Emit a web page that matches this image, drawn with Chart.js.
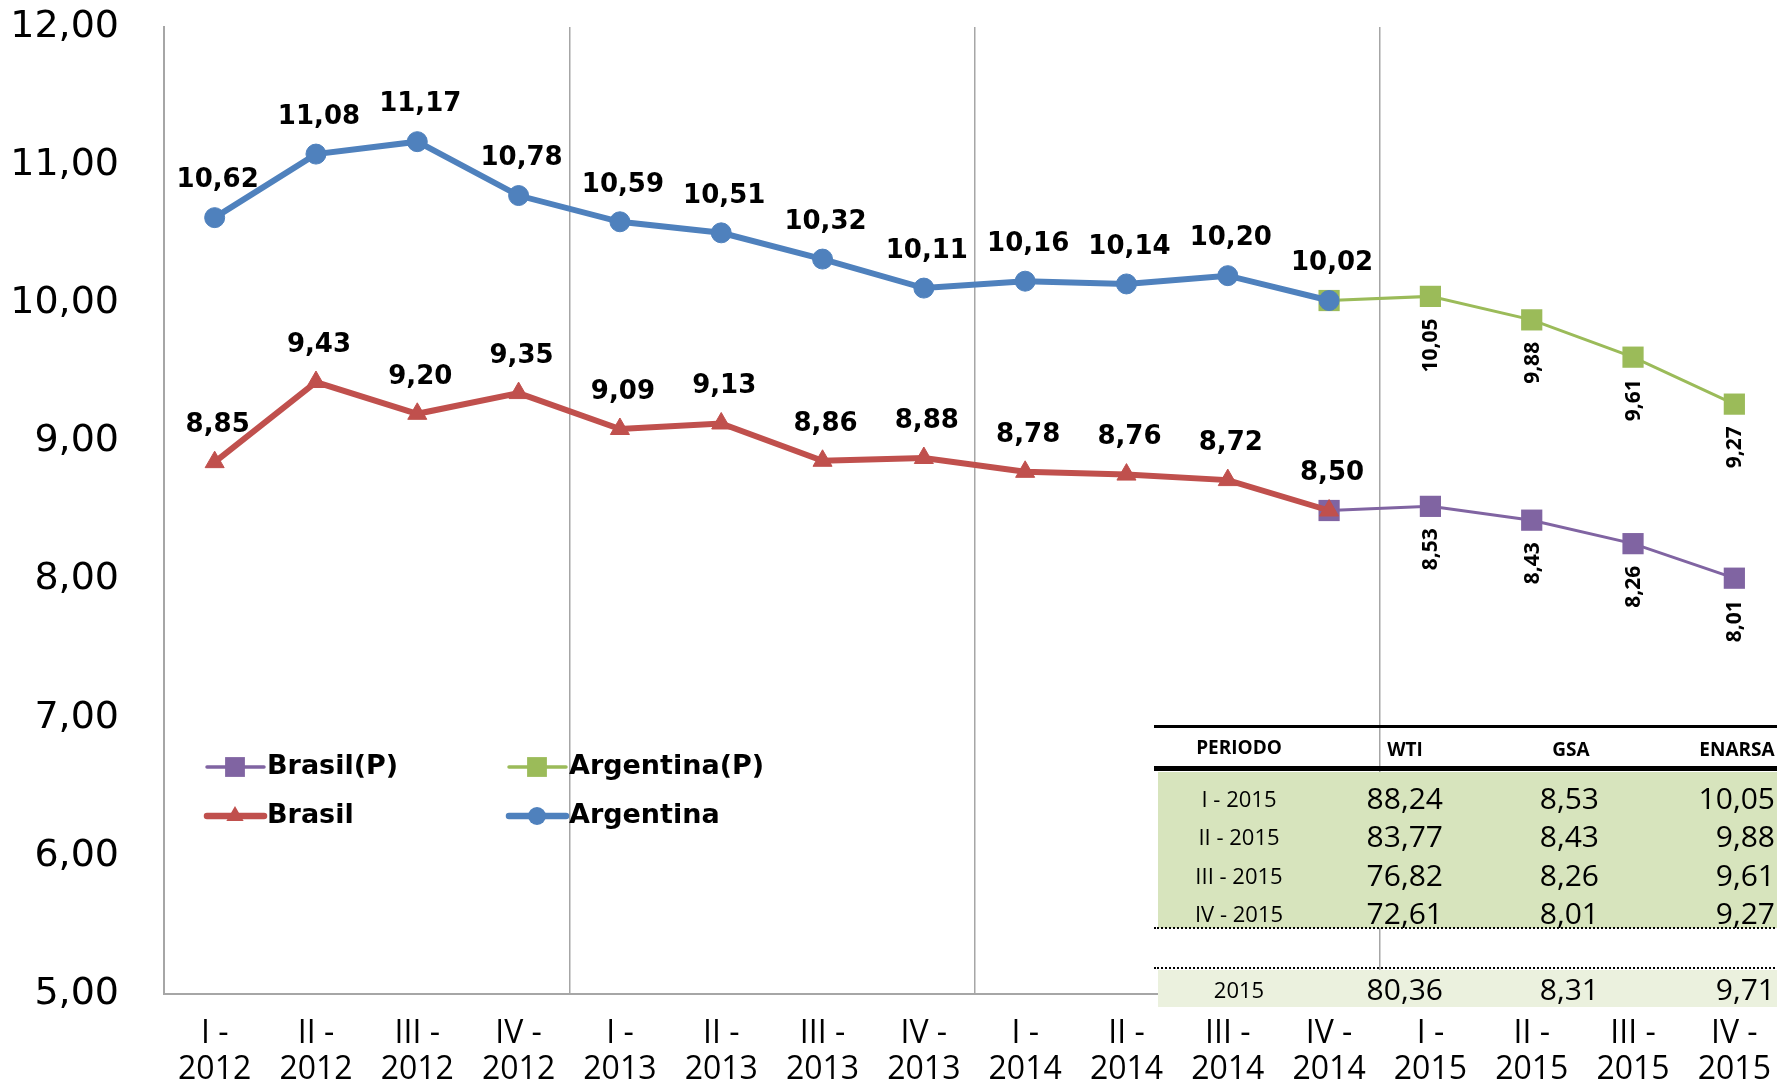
<!DOCTYPE html>
<html>
<head>
<meta charset="utf-8">
<title>Brasil / Argentina</title>
<script src="https://cdn.jsdelivr.net/npm/chart.js@4.4.1/dist/chart.umd.min.js"></script>
<style>
  html, body { margin: 0; padding: 0; background: #fff; overflow: hidden; }
  #marco { position: relative; width: 1777px; height: 1086px; overflow: hidden; }
  #grafico { position: absolute; left: 0; top: 0; }
  #tabla { position: absolute; left: 0; top: 0; width: 1777px; height: 1086px; pointer-events: none;
           font-family: "Liberation Sans Narrow", "Arial Narrow", "Open Sans", sans-serif; color: #000; }
  #tabla div { position: absolute; white-space: nowrap; }
</style>
</head>
<body>
<div id="marco">
  <canvas id="grafico" width="1800" height="1086"></canvas>
  <div id="tabla"></div>
</div>
<script>
// Categorias (trimestres)
const categorias = [
  'I - 2012', 'II - 2012', 'III - 2012', 'IV - 2012',
  'I - 2013', 'II - 2013', 'III - 2013', 'IV - 2013',
  'I - 2014', 'II - 2014', 'III - 2014', 'IV - 2014',
  'I - 2015', 'II - 2015', 'III - 2015', 'IV - 2015'
];

// Series
const argentina  = [10.62, 11.08, 11.17, 10.78, 10.59, 10.51, 10.32, 10.11, 10.16, 10.14, 10.20, 10.02, null, null, null, null];
const brasil     = [8.85, 9.43, 9.20, 9.35, 9.09, 9.13, 8.86, 8.88, 8.78, 8.76, 8.72, 8.50, null, null, null, null];
const argentinaP = [null, null, null, null, null, null, null, null, null, null, null, 10.02, 10.05, 9.88, 9.61, 9.27];
const brasilP    = [null, null, null, null, null, null, null, null, null, null, null, 8.50, 8.53, 8.43, 8.26, 8.01];

// Tabla de proyecciones 2015
const tablaPeriodos = ['I - 2015', 'II - 2015', 'III - 2015', 'IV - 2015'];
const tablaWTI      = [88.24, 83.77, 76.82, 72.61];
const tablaGSA      = [8.53, 8.43, 8.26, 8.01];
const tablaENARSA   = [10.05, 9.88, 9.61, 9.27];
const totalPeriodo  = '2015';
const totalWTI      = 80.36;
const totalGSA      = 8.31;
const totalENARSA   = 9.71;

const fmt = v => v.toFixed(2).replace('.', ',');
const narrow = '"Liberation Sans Narrow", "Arial Narrow", "Open Sans", sans-serif';

// Etiquetas de datos
const etiquetas = {
  id: 'etiquetas',
  afterDatasetsDraw(chart) {
    const ctx = chart.ctx;
    chart.data.datasets.forEach((ds, i) => {
      const meta = chart.getDatasetMeta(i);
      meta.data.forEach((pt, j) => {
        const v = ds.data[j];
        if (v == null || j < (ds.etiquetaDesde || 0)) return;
        ctx.save();
        ctx.fillStyle = '#000';
        if (ds.etiquetaRotada) {
          ctx.font = 'bold 21px ' + narrow;
          ctx.translate(pt.x + 1, pt.y + 22);
          ctx.rotate(-Math.PI / 2);
          ctx.textAlign = 'right';
          ctx.textBaseline = 'middle';
          ctx.fillText(fmt(v), 0, 0);
        } else {
          ctx.font = 'bold 26px "DejaVu Sans", sans-serif';
          ctx.textAlign = 'center';
          ctx.textBaseline = 'middle';
          ctx.fillText(fmt(v), pt.x + 3, pt.y - 37);
        }
        ctx.restore();
      });
    });
  }
};

// Leyenda dentro del area
const leyenda = {
  id: 'leyenda',
  afterDraw(chart) {
    const ctx = chart.ctx;
    const items = [
      { i: 3, x: 207, y: 767, r: 14 },
      { i: 2, x: 509, y: 767, r: 14 },
      { i: 1, x: 207, y: 816, r: 10 },
      { i: 0, x: 509, y: 816, r: 9 }
    ];
    items.forEach(it => {
      const ds = chart.data.datasets[it.i];
      ctx.save();
      ctx.strokeStyle = ds.borderColor;
      ctx.fillStyle = ds.borderColor;
      ctx.lineWidth = ds.borderWidth + 0.5;
      ctx.lineCap = 'round';
      ctx.beginPath();
      ctx.moveTo(it.x, it.y);
      ctx.lineTo(it.x + 57, it.y);
      ctx.stroke();
      Chart.helpers.drawPoint(ctx, { pointStyle: ds.pointStyle, radius: it.r, rotation: 0, borderWidth: 0 }, it.x + 28, it.y);
      ctx.fillStyle = '#000';
      ctx.font = 'bold 27px "DejaVu Sans", sans-serif';
      ctx.textAlign = 'left';
      ctx.textBaseline = 'middle';
      ctx.fillText(ds.label, it.x + 60, it.y);
      ctx.restore();
    });
  }
};

Chart.defaults.color = '#000';

new Chart(document.getElementById('grafico'), {
  type: 'line',
  data: {
    labels: categorias,
    datasets: [
      { label: 'Argentina', data: argentina, borderColor: '#4F81BD', backgroundColor: '#4F81BD',
        borderWidth: 6, pointStyle: 'circle', pointRadius: 10, pointBorderWidth: 1 },
      { label: 'Brasil', data: brasil, borderColor: '#C0504D', backgroundColor: '#C0504D',
        borderWidth: 6, pointStyle: 'triangle', pointRadius: 11, pointBorderWidth: 1 },
      { label: 'Argentina(P)', data: argentinaP, borderColor: '#9BBB59', backgroundColor: '#9BBB59',
        borderWidth: 3, pointStyle: 'rect', pointRadius: 15, pointBorderWidth: 0,
        etiquetaRotada: true, etiquetaDesde: 12 },
      { label: 'Brasil(P)', data: brasilP, borderColor: '#8064A2', backgroundColor: '#8064A2',
        borderWidth: 3, pointStyle: 'rect', pointRadius: 15, pointBorderWidth: 0,
        etiquetaRotada: true, etiquetaDesde: 12 }
    ]
  },
  options: {
    responsive: false,
    animation: false,
    events: [],
    layout: { padding: { top: 27, right: 7, left: 0, bottom: 0 } },
    plugins: { legend: { display: false }, tooltip: { enabled: false } },
    scales: {
      x: {
        type: 'category',
        offset: true,
        grid: {
          offset: true,
          drawTicks: false,
          lineWidth: 1.5,
          color: c => (c.index % 4 === 0 && c.index > 0) ? '#A6A6A6' : 'rgba(0,0,0,0)'
        },
        border: { color: '#A6A6A6', width: 2 },
        ticks: {
          autoSkip: false,
          maxRotation: 0,
          padding: 21,
          font: { family: narrow, size: 32, lineHeight: 1.15 },
          callback: (v, i) => {
            const s = categorias[i];
            const p = s.lastIndexOf(' ');
            return [s.slice(0, p), s.slice(p + 1)];
          }
        },
        afterFit: s => { s.height = 92; }
      },
      y: {
        min: 5,
        max: 12,
        grid: { display: false, drawTicks: false },
        border: { color: '#A6A6A6', width: 2 },
        ticks: {
          stepSize: 1,
          padding: 45,
          font: { family: '"DejaVu Sans", sans-serif', size: 38 },
          callback: v => fmt(v)
        },
        afterFit: s => {
          s.width = 164;
          s.paddingTop = 0;
          s.paddingBottom = 0;
        }
      }
    }
  },
  plugins: [etiquetas, leyenda]
});

// Tabla superpuesta
const tabla = document.getElementById('tabla');
function caja(left, top, width, height, css, texto) {
  const d = document.createElement('div');
  d.style.left = left + 'px';
  d.style.top = top + 'px';
  d.style.width = width + 'px';
  d.style.height = height + 'px';
  d.style.lineHeight = height + 'px';
  if (css) d.style.cssText += css;
  if (texto != null) d.textContent = texto;
  tabla.appendChild(d);
  return d;
}

// fondos y lineas
caja(1158, 772, 700, 156, 'background:#D7E4BD;');
caja(1158, 970, 700, 37, 'background:#EBF1DE;');
caja(1154, 725, 700, 3, 'background:#000;');
caja(1154, 766, 700, 5, 'background:#000;');
caja(1154, 927, 700, 0, 'border-top:2px dotted #000;');
caja(1154, 967, 700, 0, 'border-top:2px dotted #000;');

// encabezado
const hCss = 'font-weight:bold;font-size:19px;text-align:center;';
caja(1158, 730, 162, 34, hCss, 'PERIODO');
caja(1345, 732, 120, 34, hCss, 'WTI');
caja(1511, 732, 120, 34, hCss, 'GSA');
caja(1677, 732, 120, 34, hCss, 'ENARSA');

// filas
const filasY = [798, 836, 875, 913];
const pCss = 'font-size:22px;text-align:center;';
const vCss = 'font-size:30px;text-align:right;';
tablaPeriodos.forEach((p, i) => {
  const t = filasY[i] - 18;
  caja(1158, t, 162, 36, pCss, p);
  caja(1330, t, 113, 36, vCss, fmt(tablaWTI[i]));
  caja(1480, t, 119, 36, vCss, fmt(tablaGSA[i]));
  caja(1640, t, 135, 36, vCss, fmt(tablaENARSA[i]));
});
caja(1158, 971, 162, 36, pCss, totalPeriodo);
caja(1330, 971, 113, 36, vCss, fmt(totalWTI));
caja(1480, 971, 119, 36, vCss, fmt(totalGSA));
caja(1640, 971, 135, 36, vCss, fmt(totalENARSA));
</script>
</body>
</html>
